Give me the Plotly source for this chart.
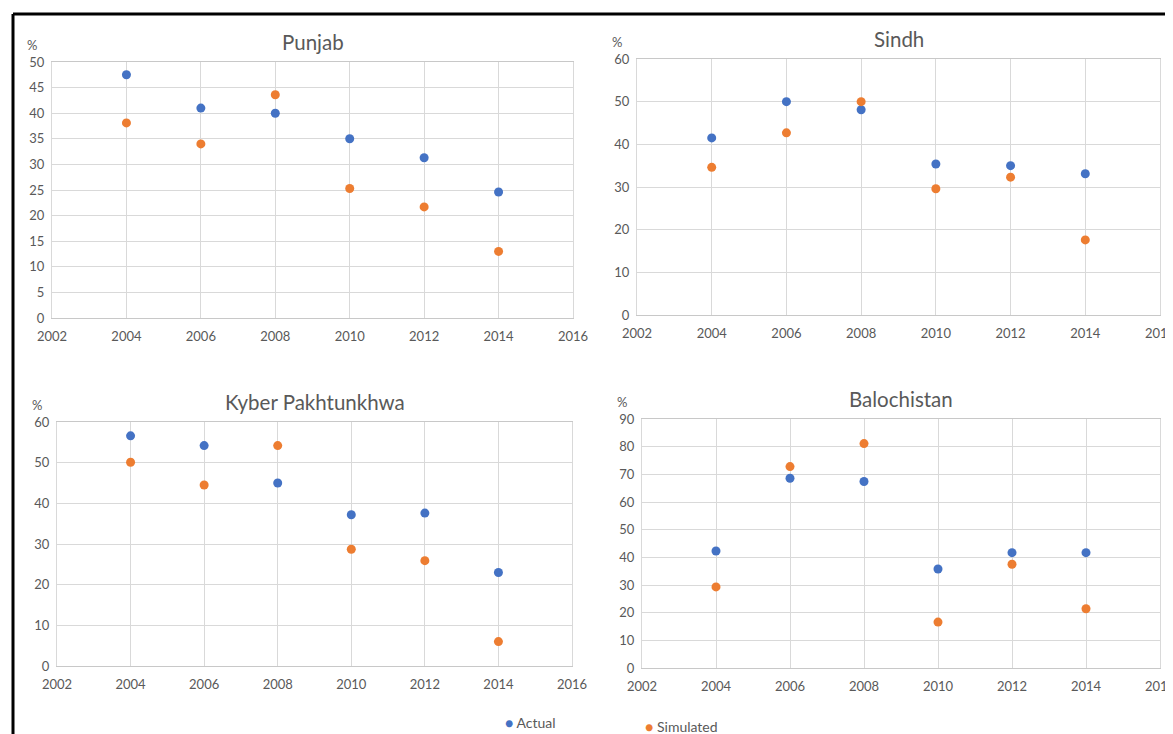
import plotly.graph_objects as go

years = [2004, 2006, 2008, 2010, 2012, 2014]
regions = ["Punjab", "Sindh", "Kyber Pakhtunkhwa", "Balochistan"]
series_names = ["Actual", "Simulated"]

punjab_actual = [47.5, 41.0, 40.0, 35.0, 31.3, 24.6]
punjab_sim = [38.1, 34.0, 43.6, 25.3, 21.7, 13.0]
sindh_actual = [41.5, 50.0, 48.1, 35.4, 35.0, 33.1]
sindh_sim = [34.6, 42.7, 50.0, 29.6, 32.3, 17.6]
kp_actual = [56.6, 54.2, 45.0, 37.2, 37.6, 23.0]
kp_sim = [50.1, 44.5, 54.2, 28.7, 25.9, 6.0]
bal_actual = [42.3, 68.6, 67.4, 35.8, 41.7, 41.7]
bal_sim = [29.3, 72.8, 81.1, 16.6, 37.5, 21.4]

actual = [punjab_actual, sindh_actual, kp_actual, bal_actual]
simulated = [punjab_sim, sindh_sim, kp_sim, bal_sim]
y_max = [50, 60, 60, 90]
y_dtick = [5, 10, 10, 10]

OFF = 8  # page body margin offset
W, H = 1173 + OFF, 734 + OFF
# plot-area pixel boxes (screen px): left, right, top, bottom
boxes = [(52, 573, 62, 318), (637, 1160, 59, 315), (57, 572, 422, 666), (642, 1160, 419, 668)]


def px(x):
    return (x - OFF) / W


def py(y):
    return 1 - (y - OFF) / H


BLUE = "#4472C4"
ORANGE = "#ED7D31"
GRID = "#d9d9d9"
TXT = "#595959"
FONT = "Lato"

fig = go.Figure()
annotations = []
for i, name in enumerate(regions):
    ax = "" if i == 0 else str(i + 1)
    l, r, t, b = boxes[i]
    xd = [px(l), px(r)]
    yd = [py(b), py(t)]
    fig.add_trace(go.Scatter(x=years, y=actual[i], mode="markers", name=series_names[0],
                             marker=dict(color=BLUE, size=9), xaxis="x" + ax, yaxis="y" + ax,
                             showlegend=False))
    fig.add_trace(go.Scatter(x=years, y=simulated[i], mode="markers", name=series_names[1],
                             marker=dict(color=ORANGE, size=9), xaxis="x" + ax, yaxis="y" + ax,
                             showlegend=False))
    fig.update_layout(**{
        "xaxis" + ax: dict(domain=xd, range=[2002, 2016], dtick=2, tick0=2002,
                           showgrid=True, gridcolor=GRID, gridwidth=1, zeroline=False,
                           showline=True, linecolor="#c8c8c8", linewidth=1, mirror=True,
                           ticks="", ticklabelstandoff=6, automargin=False,
                           tickfont=dict(size=13, color=TXT, family=FONT),
                           anchor="y" + ax, fixedrange=True),
        "yaxis" + ax: dict(domain=yd, range=[0, y_max[i]], dtick=y_dtick[i],
                           showgrid=True, gridcolor=GRID, gridwidth=1, zeroline=False,
                           showline=True, linecolor=GRID, linewidth=1, mirror=True,
                           ticks="", ticklabelstandoff=4, automargin=False,
                           tickfont=dict(size=13, color=TXT, family=FONT),
                           anchor="x" + ax, fixedrange=True),
    })
    cx = (l + r) / 2
    annotations.append(dict(text=name, x=px(cx), y=py(t - 20), xref="paper", yref="paper",
                            showarrow=False, font=dict(size=20.5, color=TXT, family=FONT),
                            xanchor="center", yanchor="middle"))
    annotations.append(dict(text="%", x=px(l - 20), y=py(t - 17), xref="paper", yref="paper",
                            showarrow=False, font=dict(size=13, color=TXT, family=FONT),
                            xanchor="center", yanchor="middle"))

# legend drawn as annotations (dot + label)
legend_items = [(series_names[0], BLUE, 508, 722), (series_names[1], ORANGE, 648, 726)]
for label, col, lx, ly in legend_items:
    annotations.append(dict(text=f"<span style='color:{col}'>●</span> {label}",
                            x=px(lx - 5), y=py(ly), xref="paper", yref="paper",
                            showarrow=False, font=dict(size=14, color=TXT, family=FONT),
                            xanchor="left", yanchor="middle"))

fig.update_layout(
    width=W, height=H, margin=dict(l=0, r=0, t=0, b=0, autoexpand=False),
    paper_bgcolor="white", plot_bgcolor="white",
    annotations=annotations,
    showlegend=False,
    shapes=[
        dict(type="line", xref="paper", yref="paper", x0=px(13), x1=1.0, y0=py(14), y1=py(14),
             line=dict(color="black", width=3)),
        dict(type="line", xref="paper", yref="paper", x0=px(13), x1=px(13), y0=0, y1=py(14),
             line=dict(color="black", width=3)),
    ],
)

fig.write_html("out.html")
